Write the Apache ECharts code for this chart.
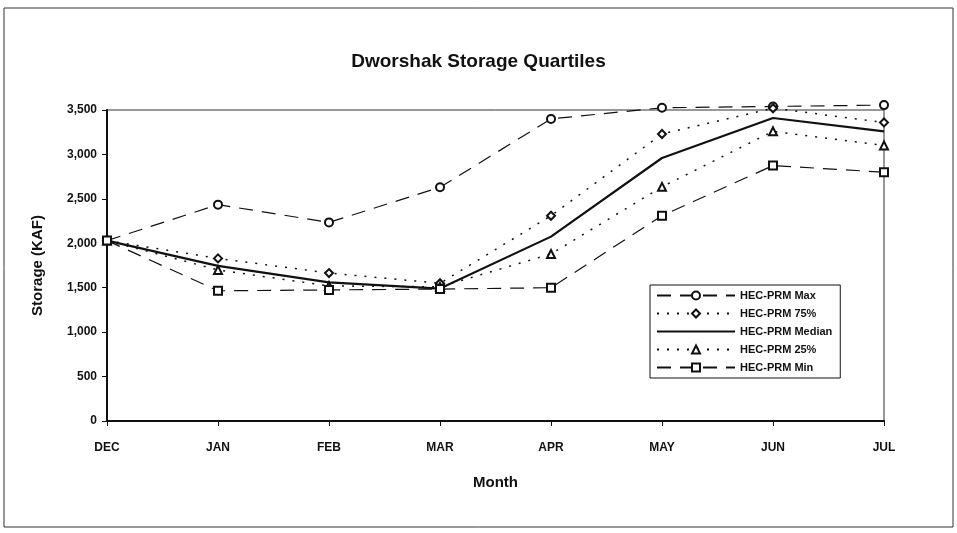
<!DOCTYPE html>
<html>
<head>
<meta charset="utf-8">
<script src="https://cdn.jsdelivr.net/npm/echarts@6/dist/echarts.min.js"></script>
<style>
  html, body { margin: 0; padding: 0; background: #fff; }
  #chart { width: 957px; height: 533px; }
</style>
</head>
<body>
<div id="chart"></div>
<script>
const months = ["DEC", "JAN", "FEB", "MAR", "APR", "MAY", "JUN", "JUL"];
const maxVals = [2030, 2435, 2235, 2630, 3400, 3525, 3540, 3555];
const p75Vals = [2030, 1830, 1665, 1550, 2310, 3230, 3520, 3360];
const medianVals = [2030, 1745, 1560, 1490, 2075, 2960, 3410, 3260];
const p25Vals = [2030, 1700, 1520, 1510, 1880, 2635, 3260, 3100];
const minVals = [2030, 1465, 1475, 1485, 1500, 2310, 2875, 2800];

const font = "'Liberation Sans', Arial, sans-serif";

function makeSeries(name, data, symbol, dash, width) {
  return {
    name: name,
    type: "line",
    data: data,
    clip: false,
    symbol: symbol,
    symbolSize: 8,
    showSymbol: symbol !== "none",
    itemStyle: { color: "#111" },
    lineStyle: { color: "#111", width: width, type: dash },
    emphasis: { disabled: true },
  };
}

const options = {
  animation: false,
  backgroundColor: "#fff",
  title: {
    text: "Dworshak Storage Quartiles",
    left: "center",
    top: 47,
    textStyle: { fontFamily: font, fontWeight: "bold", fontSize: 19, color: "#111" },
  },
  graphic: [
    {
      type: "rect",
      shape: { x: 4, y: 8, width: 949, height: 519 },
      style: { fill: "none", stroke: "#333", lineWidth: 1 },
      silent: true,
    },
  ],
  grid: {
    left: 107,
    right: 73,
    top: 110,
    bottom: 112,
    show: true,
    borderColor: "#333",
    borderWidth: 1,
  },
  legend: {
    orient: "vertical",
    left: 650,
    top: 285,
    padding: [5, 8, 5, 6],
    borderColor: "#111",
    borderWidth: 1,
    itemWidth: 78,
    itemHeight: 10,
    itemGap: 7,
    textStyle: { fontFamily: font, fontWeight: "bold", fontSize: 11, color: "#111" },
    data: [
      "HEC-PRM Max",
      "HEC-PRM 75%",
      { name: "HEC-PRM Median", itemStyle: { color: "rgba(0,0,0,0)", borderWidth: 0 } },
      "HEC-PRM 25%",
      "HEC-PRM Min",
    ],
  },
  xAxis: {
    type: "category",
    data: months,
    boundaryGap: false,
    name: "Month",
    nameLocation: "middle",
    nameGap: 54,
    nameTextStyle: { fontFamily: font, fontWeight: "bold", fontSize: 15, color: "#111" },
    axisLine: { lineStyle: { color: "#111", width: 2 } },
    axisTick: { show: true, length: 5, lineStyle: { color: "#111" } },
    axisLabel: { margin: 21, fontFamily: font, fontWeight: "bold", fontSize: 12, color: "#111" },
    splitLine: { show: false },
  },
  yAxis: {
    type: "value",
    min: 0,
    max: 3500,
    interval: 500,
    name: "Storage (KAF)",
    nameLocation: "middle",
    nameGap: 62,
    nameTextStyle: { fontFamily: font, fontWeight: "bold", fontSize: 15, color: "#111" },
    axisLine: { show: true, lineStyle: { color: "#111", width: 2 } },
    axisTick: { show: true, length: 5, lineStyle: { color: "#111" } },
    axisLabel: {
      margin: 10,
      fontFamily: font,
      fontWeight: "bold",
      fontSize: 12,
      color: "#111",
      formatter: function (v) { return v.toLocaleString("en-US"); },
    },
    splitLine: { show: false },
  },
  series: [
    makeSeries("HEC-PRM Max", maxVals, "emptyCircle", [14, 9], 1.2),
    makeSeries("HEC-PRM 75%", p75Vals, "emptyDiamond", [2, 8], 1.5),
    makeSeries("HEC-PRM Median", medianVals, "none", "solid", 2.2),
    makeSeries("HEC-PRM 25%", p25Vals, "emptyTriangle", [2, 8], 1.5),
    makeSeries("HEC-PRM Min", minVals, "emptyRect", [14, 9], 1.2),
  ],
};

document.addEventListener("DOMContentLoaded", function () {
  const chart = echarts.init(document.getElementById("chart"));
  chart.setOption(options);
});
</script>
</body>
</html>
